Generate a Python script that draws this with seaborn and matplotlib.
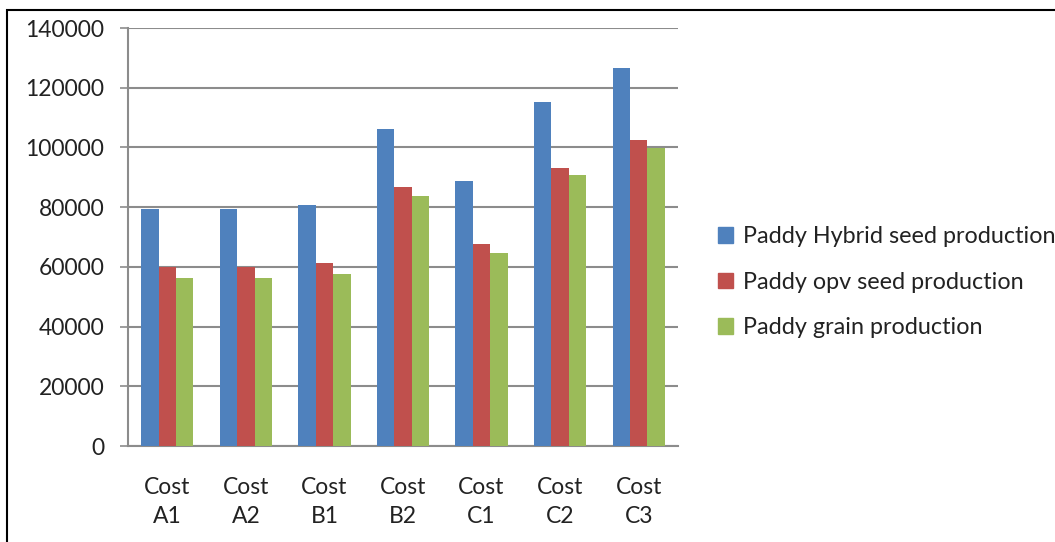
import matplotlib
matplotlib.use("Agg")
import matplotlib.pyplot as plt
import matplotlib.patches as mpatches
import seaborn as sns
import pandas as pd

categories = ["Cost\nA1", "Cost\nA2", "Cost\nB1", "Cost\nB2", "Cost\nC1", "Cost\nC2", "Cost\nC3"]
hybrid_seed = [79400, 79400, 80700, 106300, 88800, 115300, 126600]
opv_seed = [60100, 60100, 61300, 86600, 67700, 93200, 102600]
grain = [56300, 56300, 57500, 83900, 64600, 90700, 99900]
series_names = ["Paddy Hybrid seed production", "Paddy opv seed production", "Paddy grain production"]
series_colors = ["#4F81BD", "#C0504D", "#9BBB59"]
y_ticks = [0, 20000, 40000, 60000, 80000, 100000, 120000, 140000]

df = pd.DataFrame({
    "category": categories * 3,
    "value": hybrid_seed + opv_seed + grain,
    "series": [s for s in series_names for _ in categories],
})

sns.set_theme(style="white")
plt.rcParams["font.family"] = ["Lato", "DejaVu Sans"]

fig = plt.figure(figsize=(10.55, 5.42), dpi=100)
ax = fig.add_axes([0.1213, 0.1771, 0.5213, 0.7712])

sns.barplot(data=df, x="category", y="value", hue="series", order=categories,
            hue_order=series_names, palette=series_colors, width=0.665,
            gap=0, saturation=1, errorbar=None, ax=ax, legend=False,
            edgecolor="none", linewidth=0, zorder=3)

ax.set_xlim(-0.5, len(categories) - 0.5)
ax.set_ylim(0, 140000)
ax.set_yticks(y_ticks)
ax.set_yticklabels([str(v) for v in y_ticks], fontsize=16.5, color="#222222")
ax.yaxis.grid(True, color="#8c8c8c", linewidth=1.5, zorder=0)
ax.set_axisbelow(True)
ax.set_xlabel("")
ax.set_ylabel("")

# category labels centered, ticks placed on category boundaries
ax.set_xticks(range(len(categories)))
ax.set_xticklabels(categories, fontsize=16.5, color="#222222", linespacing=1.5)
ax.tick_params(axis="x", length=0, pad=22)
ax.set_xticks([i - 0.5 for i in range(len(categories) + 1)], minor=True)
ax.tick_params(axis="x", which="minor", length=7, width=1.2, color="#8c8c8c", direction="out")
ax.tick_params(axis="y", length=6, width=1.2, color="#8c8c8c", direction="out", pad=11, left=True)

for side in ["top", "right"]:
    ax.spines[side].set_visible(False)
for side in ["left", "bottom"]:
    ax.spines[side].set_color("#8c8c8c")
    ax.spines[side].set_linewidth(1.5)

handles = [mpatches.Patch(color=c, label=n) for c, n in zip(series_colors, series_names)]
fig.legend(handles=handles, loc="upper left", bbox_to_anchor=(0.672, 0.6), frameon=False,
           fontsize=16.8, handlelength=0.65, handleheight=0.65, handletextpad=0.4,
           labelspacing=1.05, labelcolor="#222222", borderaxespad=0)

# outer frame
fig.add_artist(mpatches.Rectangle((7 / 1055, -0.1), 1.2, (542 - 10) / 542 + 0.1,
                                  transform=fig.transFigure, fill=False,
                                  edgecolor="black", linewidth=1.5))

fig.savefig("out.png", dpi=100)
